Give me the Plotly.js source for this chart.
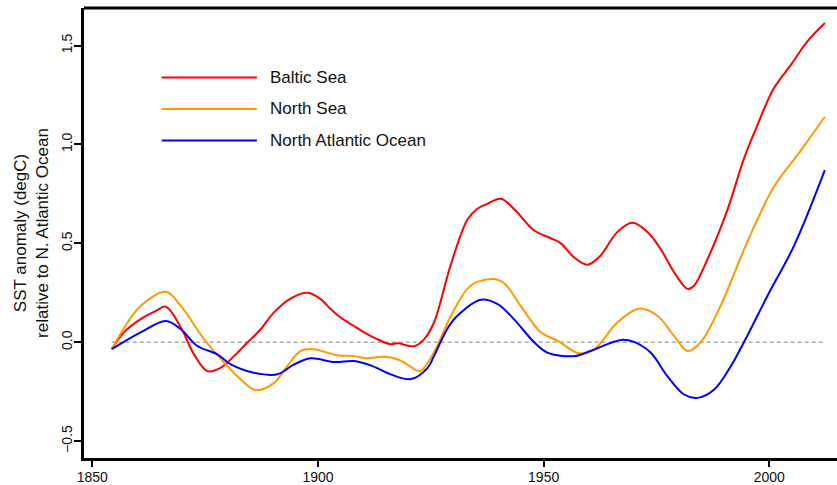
<!DOCTYPE html>
<html>
<head>
<meta charset="utf-8">
<script src="https://cdn.plot.ly/plotly-3.0.1.min.js"></script>
<style>
html,body{margin:0;padding:0;background:#fff;overflow:hidden;}
#chart{width:837px;height:485px;}
</style>
</head>
<body>
<div id="chart"></div>
<script>
// ---- data ----
const seriesNames = ["Baltic Sea", "North Sea", "North Atlantic Ocean"];

const balticYears = [1854.3,1857,1860.7,1864,1866.3,1869.6,1872.5,1875.5,1878.5,1881.4,1884.4,1887.3,1890.2,1894,1897.7,1900.6,1902.8,1905,1907.7,1910.2,1913.2,1916.1,1917.6,1921.3,1923.5,1925.7,1929.4,1933.1,1935.3,1937.5,1940.5,1943.4,1947.9,1951.6,1953.8,1956.7,1959.7,1962.6,1966.3,1969.7,1973,1975.9,1978.9,1981.9,1983.3,1986.3,1990.7,1994.4,1997.4,2001,2004.7,2008.4,2012.3];
const balticValues = [-0.035,0.05,0.117,0.158,0.18,0.076,-0.06,-0.146,-0.128,-0.07,0.0,0.066,0.15,0.222,0.25,0.218,0.168,0.125,0.086,0.05,0.015,-0.01,-0.005,-0.02,0.015,0.1,0.39,0.62,0.675,0.70,0.726,0.675,0.565,0.526,0.50,0.43,0.392,0.438,0.557,0.604,0.557,0.472,0.354,0.27,0.286,0.42,0.668,0.93,1.10,1.284,1.40,1.52,1.614];

const northSeaYears = [1854.3,1857.8,1860.7,1866.3,1869.6,1874.8,1879.2,1882.9,1886.2,1890.3,1893.2,1896.2,1899.1,1904.3,1908,1911,1914.6,1917.6,1920,1922.6,1925.7,1929.4,1933.8,1938.7,1941.2,1944.9,1949.4,1953.1,1957.9,1961.2,1966.3,1971.1,1975.2,1978.9,1981.9,1984.8,1989.2,1995.1,2001,2007,2012.3];
const northSeaValues = [-0.035,0.10,0.184,0.255,0.184,0.015,-0.103,-0.188,-0.242,-0.205,-0.12,-0.044,-0.035,-0.066,-0.07,-0.081,-0.073,-0.086,-0.115,-0.146,-0.05,0.13,0.286,0.32,0.30,0.184,0.05,0.007,-0.056,-0.036,0.1,0.17,0.134,0.032,-0.044,0.0,0.184,0.506,0.785,0.97,1.14];

const atlanticYears = [1854.3,1860.7,1866.3,1869.6,1873.3,1877.7,1880.7,1885.8,1891,1894.7,1898.4,1903.6,1908,1911.7,1916.1,1920.6,1924.3,1925.7,1928.7,1930.9,1936.1,1939.8,1943.4,1947.9,1950.8,1956.7,1960.4,1967.1,1970,1973.7,1977.4,1981.1,1984.1,1987.8,1991.5,1995.1,1999.6,2005.5,2012.3];
const atlanticValues = [-0.035,0.05,0.108,0.066,-0.019,-0.061,-0.112,-0.154,-0.162,-0.112,-0.081,-0.1,-0.095,-0.117,-0.162,-0.186,-0.129,-0.07,0.07,0.134,0.215,0.193,0.117,0.0,-0.052,-0.07,-0.044,0.012,0.002,-0.052,-0.171,-0.264,-0.281,-0.239,-0.12,0.032,0.235,0.489,0.87];

const refYears = [1854.3, 2012.3];
const refValues = [0, 0];

const xTickVals = [1850, 1900, 1950, 2000];
const xTickText = ["1850", "1900", "1950", "2000"];
const yTickVals = [-0.5, 0, 0.5, 1.0, 1.5];
const yTickText = ["\u22120.5", "0.0", "0.5", "1.0", "1.5"];

const colors = ["#ff0000", "#ff9900", "#0000ff"];
// ---------------------------------------

const FONT = "Liberation Sans, Arial, Helvetica, sans-serif";

const traces = [
  {x: refYears, y: refValues, mode: "lines", line: {color: "#aaaaaa", width: 1.5, dash: "4px,3px"}, hoverinfo: "skip", showlegend: false},
  {x: balticYears, y: balticValues, name: seriesNames[0], mode: "lines", line: {color: colors[0], width: 2, shape: "spline", smoothing: 1}},
  {x: northSeaYears, y: northSeaValues, name: seriesNames[1], mode: "lines", line: {color: colors[1], width: 2, shape: "spline", smoothing: 1}},
  {x: atlanticYears, y: atlanticValues, name: seriesNames[2], mode: "lines", line: {color: colors[2], width: 2, shape: "spline", smoothing: 1}}
];

// legend drawn as paper-positioned shapes and annotations
const legendY = [0.8456, 0.7756, 0.7056];
const shapes = [
  {type: "line", xref: "paper", yref: "paper", x0: 0, x1: 1.01, y0: 1, y1: 1, line: {color: "#000", width: 3}}
];
const annotations = [];
seriesNames.forEach((name, i) => {
  shapes.push({type: "line", xref: "paper", yref: "paper", x0: 0.1032, x1: 0.2296, y0: legendY[i], y1: legendY[i], line: {color: colors[i], width: 2}});
  annotations.push({xref: "paper", yref: "paper", x: 0.2440, y: legendY[i], xanchor: "left", yanchor: "middle", text: name, showarrow: false, font: {family: FONT, size: 17, color: "#111"}});
});

const layout = {
  width: 837, height: 485,
  margin: {l: 84, r: 0, t: 8, b: 27, pad: 0},
  paper_bgcolor: "#fff", plot_bgcolor: "#fff",
  showlegend: false,
  font: {family: FONT, color: "#111"},
  xaxis: {
    range: [1848.16, 2015.0], showgrid: false, zeroline: false,
    showline: true, linecolor: "#000", linewidth: 3,
    ticks: "outside", ticklen: 6, tickwidth: 2, tickcolor: "#000",
    tickvals: xTickVals, ticktext: xTickText,
    ticklabelstandoff: -2,
    tickfont: {family: FONT, size: 14, color: "#111"}
  },
  yaxis: {
    range: [-0.585, 1.69], showgrid: false, zeroline: false,
    showline: true, linecolor: "#000", linewidth: 3,
    ticks: "outside", ticklen: 7, tickwidth: 2, tickcolor: "#000",
    tickvals: yTickVals, ticktext: yTickText, tickangle: -90,
    ticklabelstandoff: -4,
    tickfont: {family: FONT, size: 14, color: "#111"},
    title: {text: "SST anomaly (degC)<br>relative to N. Atlantic Ocean", font: {family: FONT, size: 17, color: "#111"}, standoff: 7}
  },
  shapes: shapes,
  annotations: annotations
};

Plotly.newPlot("chart", traces, layout, {displayModeBar: false, staticPlot: true});
</script>
</body>
</html>
